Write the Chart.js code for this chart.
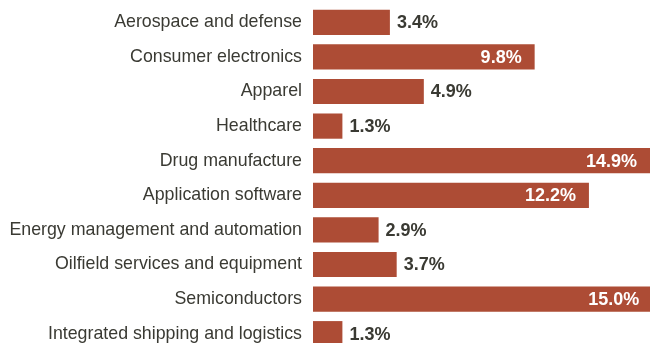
<!DOCTYPE html>
<html>
<head>
<meta charset="utf-8">
<script src="https://cdn.jsdelivr.net/npm/chart.js@4"></script>
<style>
    html, body { margin: 0; padding: 0; background: #fff; overflow: hidden; }
    #wrap { position: relative; width: 650px; height: 351px; }
</style>
</head>
<body>
<div id="wrap"><canvas id="myChart"></canvas></div>
<script>
/* ===============================
   DATA
=============================== */
const industries = [
    "Aerospace and defense",
    "Consumer electronics",
    "Apparel",
    "Healthcare",
    "Drug manufacture",
    "Application software",
    "Energy management and automation",
    "Oilfield services and equipment",
    "Semiconductors",
    "Integrated shipping and logistics"
];
const shares = [3.4, 9.8, 4.9, 1.3, 14.9, 12.2, 2.9, 3.7, 15.0, 1.3];

const barColor = "#ad4c35";
const labelColor = "#3a3a33";

/* ===============================
   VALUE LABELS
=============================== */
const valueLabels = {
    id: "valueLabels",
    afterDatasetsDraw(chart) {
        const c = chart.ctx;
        const meta = chart.getDatasetMeta(0);
        c.save();
        c.font = "bold 18px 'Liberation Sans', Arial, sans-serif";
        c.textBaseline = "middle";
        meta.data.forEach((bar, i) => {
            const text = shares[i].toFixed(1) + "%";
            if (shares[i] > 7) {
                c.fillStyle = "#ffffff";
                c.textAlign = "right";
                c.fillText(text, bar.x - 13, bar.y + 1);
            } else {
                c.fillStyle = labelColor;
                c.textAlign = "left";
                c.fillText(text, bar.x + 7, bar.y + 1);
            }
        });
        c.restore();
    }
};

/* ===============================
   CHART
=============================== */
const ctx = document.getElementById("myChart");

new Chart(ctx, {
    type: "bar",
    data: {
        labels: industries,
        datasets: [
            {
                data: shares,
                backgroundColor: barColor,
                barPercentage: 0.81,
                categoryPercentage: 0.9
            }
        ]
    },
    options: {
        indexAxis: "y",
        responsive: true,
        maintainAspectRatio: false,
        animation: false,
        layout: { padding: { top: 5, right: 0, bottom: 0, left: 0 } },
        plugins: {
            legend: { display: false },
            tooltip: { enabled: false }
        },
        scales: {
            x: {
                display: false,
                min: 0,
                max: 14.9
            },
            y: {
                grid: { display: false },
                border: { display: false },
                afterFit(scale) {
                    scale.width = 313;
                    scale.paddingTop = 0;
                    scale.paddingBottom = 0;
                },
                ticks: {
                    color: labelColor,
                    padding: 3,
                    font: { family: "'Liberation Sans', Arial, sans-serif", size: 17.8 }
                }
            }
        }
    },
    plugins: [valueLabels]
});
</script>
</body>
</html>
